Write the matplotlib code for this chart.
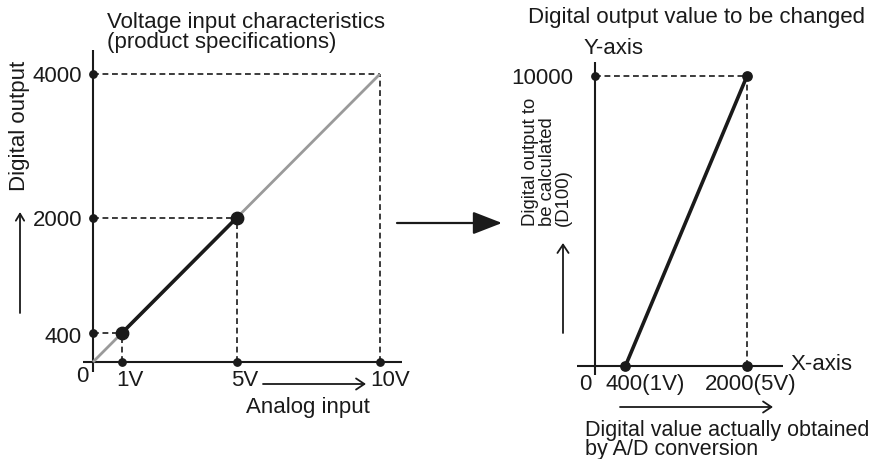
import matplotlib
matplotlib.use('Agg')
import matplotlib.pyplot as plt
from matplotlib.patches import FancyArrowPatch

plt.rcParams['font.family'] = ['Liberation Sans', 'DejaVu Sans']

# ---------------- data ----------------
volt_labels = ['1V', '5V', '10V']
volt_values = [1, 5, 10]
digital_levels = [400, 2000, 4000]
digital_labels = ['400', '2000', '4000']
spec_x = [0, 10]            # product specification line (V)
spec_y = [0, 4000]
used_x = [1, 5]             # used input range (V)
used_y = [400, 2000]
scaled_x = [400, 2000]      # digital value actually obtained by A/D
scaled_y = [0, 10000]       # digital output to be calculated
scaled_labels = ['400(1V)', '2000(5V)']
right_top_label = '10000'

W, H = 869, 459
fig = plt.figure(figsize=(W / 100, H / 100), dpi=100)

FS = 16
BLACK = '#1a1a1a'
GREY = '#9a9a9a'
DASH = (0, (3.5, 2.2))


def make_axes(ox, oy, sx, sy):
    ax = fig.add_axes([0, 0, 1, 1])
    ax.set_xlim(-ox / sx, (W - ox) / sx)
    ax.set_ylim((oy - H) / sy, oy / sy)
    ax.axis('off')
    ax.patch.set_alpha(0)
    conv = lambda px, py: ((px - ox) / sx, (oy - py) / sy)
    return ax, conv


def ftext(px, py, s, **kw):
    kw.setdefault('fontsize', FS)
    kw.setdefault('color', BLACK)
    fig.text(px / W, 1 - py / H, s, **kw)


def farrow(x0, y0, x1, y1, style, lw):
    a = FancyArrowPatch((x0 / W, 1 - y0 / H), (x1 / W, 1 - y1 / H),
                        transform=fig.transFigure, arrowstyle=style,
                        color=BLACK, lw=lw, mutation_scale=1,
                        shrinkA=0, shrinkB=0)
    fig.add_artist(a)


# ---------------- left chart ----------------
axL, cL = make_axes(93, 362, 28.7, 288 / 4000)
# axes lines
x0, yb = cL(93, 372)
_, yt = cL(93, 50)
axL.plot([0, 0], [yb, yt], color=BLACK, lw=1.5, solid_capstyle='butt')
xl, _ = cL(83, 362)
xr, _ = cL(402, 362)
axL.plot([xl, xr], [0, 0], color=BLACK, lw=1.5, solid_capstyle='butt')

# guide dashes
top_v = volt_values[-1]
for v, d in [(used_x[0], used_y[0]), (used_x[1], used_y[1]), (top_v, digital_levels[-1])]:
    axL.plot([0, v], [d, d], color=BLACK, lw=1.2, ls=DASH)
    axL.plot([v, v], [0, d], color=BLACK, lw=1.2, ls=DASH)

axL.plot(spec_x, spec_y, color=GREY, lw=2.0, solid_capstyle='butt', zorder=3)
axL.plot(used_x, used_y, color=BLACK, lw=2.6, solid_capstyle='butt', zorder=4)
axL.scatter([0] * len(digital_levels), digital_levels, s=28, color=BLACK, zorder=5)
axL.scatter(volt_values, [0] * len(volt_values), s=28, color=BLACK, zorder=5)
axL.scatter(used_x, used_y, s=80, color=BLACK, zorder=6)

for d, lab in zip(digital_levels, digital_labels):
    axL.annotate(lab, (0, d), xytext=(-11, -2 if d > 500 else -4), textcoords='offset pixels',
                 ha='right', va='center', fontsize=FS, color=BLACK)
for v, lab in zip(volt_values, volt_labels):
    axL.annotate(lab, (v, 0), xytext=(8 if v < 10 else 10, -8), textcoords='offset pixels',
                 ha='center', va='top', fontsize=FS, color=BLACK)
axL.annotate('0', (0, 0), xytext=(-11, -4), textcoords='offset pixels',
             ha='center', va='top', fontsize=FS, color=BLACK)

ftext(107, 12, 'Voltage input characteristics\n(product specifications)',
      ha='left', va='top', linespacing=0.95)
ftext(20, 126, 'Digital output', rotation=90, ha='center', va='center')
farrow(20, 313, 20, 212, '->,head_length=5,head_width=3', 1.3)
farrow(263, 384, 366, 384, '->,head_length=6,head_width=4', 1.3)
ftext(308, 408, 'Analog input', ha='center', va='center')

# middle arrow
farrow(397, 223, 502, 223, '-|>,head_length=18,head_width=7', 1.6)

# ---------------- right chart ----------------
axR, cR = make_axes(595, 366, 152 / 2000, 290 / 10000)
_, yb = cR(595, 375)
_, yt = cR(595, 62)
axR.plot([0, 0], [yb, yt], color=BLACK, lw=1.5, solid_capstyle='butt')
xl, _ = cR(577, 366)
xr, _ = cR(783, 366)
axR.plot([xl, xr], [0, 0], color=BLACK, lw=1.5, solid_capstyle='butt')

axR.plot([0, scaled_x[1]], [scaled_y[1], scaled_y[1]], color=BLACK, lw=1.2, ls=DASH)
axR.plot([scaled_x[1], scaled_x[1]], [0, scaled_y[1]], color=BLACK, lw=1.2, ls=DASH)
axR.plot(scaled_x, scaled_y, color=BLACK, lw=2.6, solid_capstyle='butt', zorder=4)
axR.scatter([0], [scaled_y[1]], s=28, color=BLACK, zorder=5)
axR.scatter([scaled_x[1]], [scaled_y[1]], s=45, color=BLACK, zorder=5)
axR.scatter(scaled_x, [0, 0], s=45, color=BLACK, zorder=5)

axR.annotate(right_top_label, (0, scaled_y[1]), xytext=(-22, -2), textcoords='offset pixels',
             ha='right', va='center', fontsize=FS, color=BLACK)
for v, lab in zip(scaled_x, scaled_labels):
    axR.annotate(lab, (v, 0), xytext=(20 if v < 1000 else 4, -8), textcoords='offset pixels',
                 ha='center', va='top', fontsize=FS, color=BLACK)
axR.annotate('0', (0, 0), xytext=(-10, -8), textcoords='offset pixels',
             ha='center', va='top', fontsize=FS, color=BLACK)
axR.annotate('X-axis', (xr, 0), xytext=(8, 2), textcoords='offset pixels',
             ha='left', va='center', fontsize=FS, color=BLACK)

ftext(696, 17, 'Digital output value to be changed', ha='center', va='center')
ftext(614, 48, 'Y-axis', ha='center', va='center')
ftext(547, 226, 'Digital output to\nbe calculated\n(D100)', rotation=90,
      ha='center', va='bottom', multialignment='left', fontsize=13.3, linespacing=0.95)
farrow(563, 333, 563, 243, '->,head_length=6,head_width=4', 1.3)
farrow(620, 407, 773, 407, '->,head_length=6,head_width=4', 1.3)
ftext(585, 420, 'Digital value actually obtained\nby A/D conversion',
      ha='left', va='top', linespacing=0.9, fontsize=15.5)

fig.savefig('out.png', dpi=100)
